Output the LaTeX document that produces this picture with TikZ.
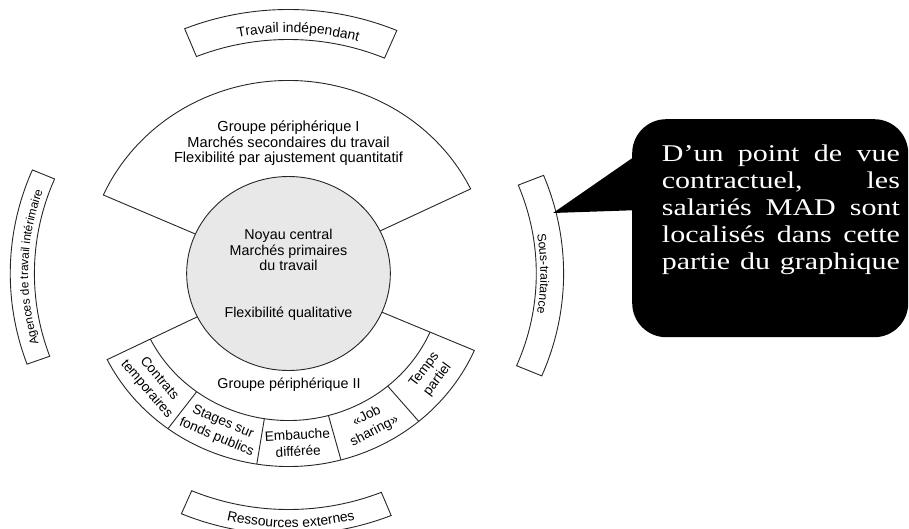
\documentclass[tikz,border=0pt]{standalone}
\usepackage{graphicx}
\usepackage{fontspec}
\setmainfont{Liberation Sans}
\newfontfamily\notefamily{Liberation Serif}
\usetikzlibrary{decorations.text}
\newcommand{\bigouter}{\fontsize{13.8}{15}\selectfont}
\newcommand{\smallouter}{\fontsize{12.3}{14}\selectfont}
\newcommand{\leftouter}{\fontsize{11.8}{14}\selectfont}
\newcommand{\noteline}[1]{\scalebox{1.25}[1]{\makebox[190.4pt][s]{#1}}}
\begin{document}
\begin{tikzpicture}[x=1pt,y=1pt,
  line/.style={draw=black!85, line width=0.9pt},
  lab/.style={font=\fontsize{14.3}{15.5}\selectfont, align=center, inner sep=0pt},
  toplab/.style={font=\fontsize{14.6}{15.5}\selectfont, align=center, inner sep=0pt},
  sublab/.style={font=\fontsize{13.6}{16.5}\selectfont, align=center, inner sep=0pt},
  curvedlab/.style 2 args={decorate, decoration={text along path, text align=center, text={|#1|#2}}},
  noteline/.style={anchor=base west, inner sep=0pt, text=white, font=\notefamily\fontsize{24}{27}\selectfont},
]
\useasboundingbox (0,0) rectangle (909,528);
\clip (0,0) rectangle (909,528);
\begin{scope}[shift={(288.5,254.5)}]
  % Groupe peripherique I (upper fan)
  \path[line, fill=white] (26:101.85pt and 97pt) -- (26:202.65pt and 193pt)
    arc[start angle=26, end angle=156, x radius=202.65pt, y radius=193pt]
    -- (156:101.85pt and 97pt) -- cycle;
  % Groupe peripherique II (lower band)
  \path[line, fill=white] (206.5:101.85pt and 97pt) -- (206.5:202.65pt and 193pt)
    arc[start angle=206.5, end angle=336.5, x radius=202.65pt, y radius=193pt]
    -- (336.5:101.85pt and 97pt) -- cycle;
  \draw[line] (206.5:154.35pt and 147pt)
    arc[start angle=206.5, end angle=336.5, x radius=154.35pt, y radius=147pt];
  \foreach \a in {233.5,261,285,310}
    \draw[line] (\a:154.35pt and 147pt) -- (\a:202.65pt and 193pt);
  % Noyau central
  \path[line, fill=gray!18] (0,0) ellipse[x radius=101.85pt, y radius=97pt];

  % texts
  \node[toplab] (gp1) at (0,130) {Groupe périphérique I\\Marchés secondaires du travail\\Flexibilité par ajustement quantitatif};
  \node[lab] (noyau) at (0,23.2) {Noyau central\\Marchés primaires\\du travail};
  \node[lab, anchor=base] (flexq) at (0,-43.8) {Flexibilité qualitative};
  \node[lab, anchor=base] (gp2) at (0.5,-114.8) {Groupe périphérique II};

  \node[sublab, rotate=-49.5] (contrats) at (220.5:178.5pt and 170pt) {Contrats\\temporaires};
  \node[sublab, rotate=-22.75] (stages) at (247.25:178pt and 169.5pt) {Stages sur\\fonds publics};
  \node[sublab, rotate=3] (embauche) at (273:178pt and 169.5pt) {Embauche\\différée};
  \node[sublab, rotate=27.5] (job) at (297.5:178pt and 169.5pt) {«Job\\sharing»};
  \node[sublab, rotate=53.25] (temps) at (323.25:178pt and 169.5pt) {Temps\\partiel};

  % outer boxes
  % top
  \draw[line] (67:245.7pt and 234pt) arc[start angle=67, end angle=112, x radius=245.7pt, y radius=234pt]
    -- (112:277.2pt and 264pt) arc[start angle=112, end angle=67, x radius=277.2pt, y radius=264pt] -- cycle;
  \path[curvedlab={\bigouter}{Travail indépendant}] (111.6:253.05pt and 241pt)
    arc[start angle=111.6, end angle=64, x radius=253.05pt, y radius=241pt];
  % bottom
  \draw[line] (247:247.8pt and 236pt) arc[start angle=247, end angle=292, x radius=247.8pt, y radius=236pt]
    -- (292:274.05pt and 261pt) arc[start angle=292, end angle=247, x radius=274.05pt, y radius=261pt] -- cycle;
  \path[curvedlab={\bigouter}{Ressources externes}] (247:266.7pt and 254pt)
    arc[start angle=247, end angle=294, x radius=266.7pt, y radius=254pt];
  % left
  \draw[line] (157:254.1pt and 242pt) arc[start angle=157, end angle=200, x radius=254.1pt, y radius=242pt]
    -- (200:278.25pt and 265pt) arc[start angle=200, end angle=157, x radius=278.25pt, y radius=265pt] -- cycle;
  \path[curvedlab={\leftouter}{Agences de travail intérimaire}] (200:260.4pt and 248pt)
    arc[start angle=200, end angle=157, x radius=260.4pt, y radius=248pt];
  % right
  \draw[line] (-23:247.8pt and 236pt) arc[start angle=-23, end angle=22, x radius=247.8pt, y radius=236pt]
    -- (22:275.1pt and 262pt) arc[start angle=22, end angle=-23, x radius=275.1pt, y radius=262pt] -- cycle;
  \path[curvedlab={\smallouter}{Sous-traitance}] (22:252pt and 240pt)
    arc[start angle=22, end angle=-22, x radius=252pt, y radius=240pt];
\end{scope}

% callout
\node[fill=black, rounded corners=34pt, minimum width=276pt, minimum height=218pt, inner sep=0pt, anchor=north west] (note) at (632,409) {};
\coordinate (tip) at (553,315);
\fill[black] (tip) -- ([xshift=3pt,yshift=72pt]note.west) -- ([xshift=3pt,yshift=18pt]note.west) -- cycle;
\node[noteline] (note1) at (661.7,366.3) {\noteline{D’un point de vue}};
\node[noteline] (note2) at (661.7,339) {\noteline{contractuel, les}};
\node[noteline] (note3) at (661.7,312.3) {\noteline{salariés MAD sont}};
\node[noteline] (note4) at (661.7,285.3) {\noteline{localisés dans cette}};
\node[noteline] (note5) at (661.7,259) {\noteline{partie du graphique}};
\end{tikzpicture}
\end{document}
